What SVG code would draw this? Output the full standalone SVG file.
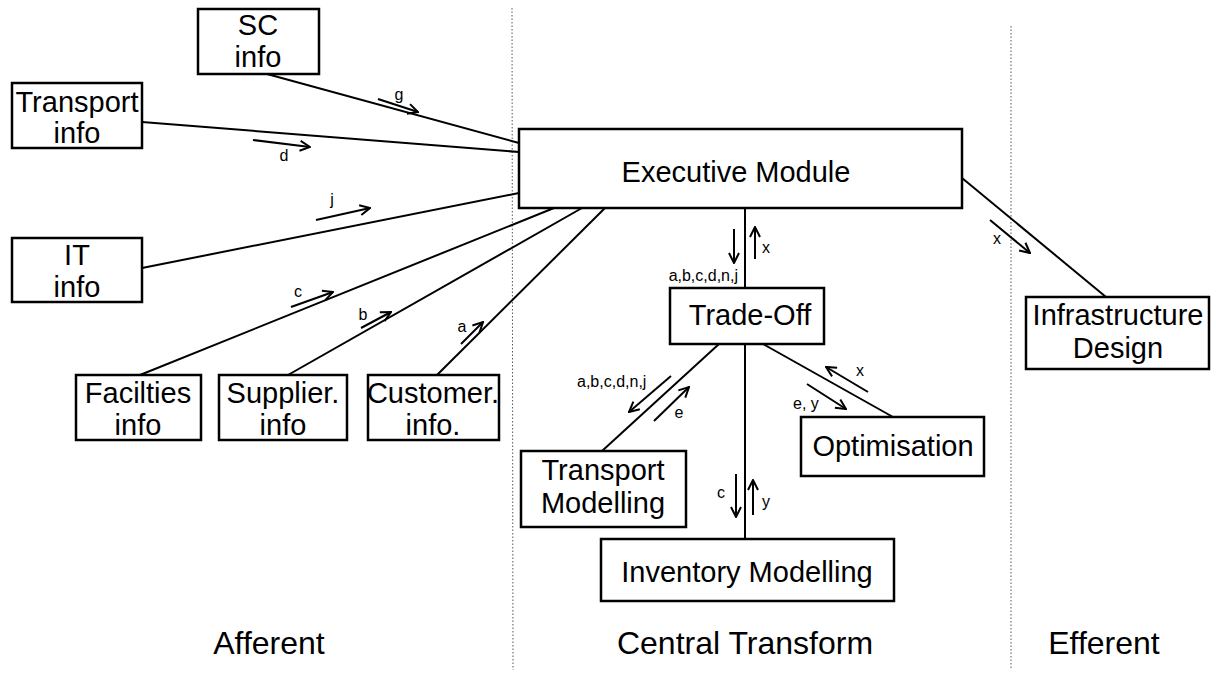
<svg xmlns="http://www.w3.org/2000/svg" width="1216" height="677" viewBox="0 0 1216 677">
<style>
.box{fill:#fff;stroke:#000;stroke-width:2.5}
.t{font-family:"Liberation Sans",Arial,sans-serif;font-size:29px;fill:#000;text-anchor:middle}
.s{font-family:"Liberation Sans",Arial,sans-serif;font-size:16px;fill:#000}
.m{text-anchor:middle}
.e{text-anchor:end}
.ln{stroke:#000;stroke-width:2;fill:none}
.ar{stroke:#000;stroke-width:2;fill:none;marker-end:url(#ah)}
.div{stroke:#555;stroke-width:1;stroke-dasharray:1.5 2;fill:none}
.lab{font-family:"Liberation Sans",Arial,sans-serif;font-size:32px;fill:#000;text-anchor:middle}
</style>
<defs>
<marker id="ah" viewBox="0 0 12 12" refX="11" refY="6" markerWidth="12" markerHeight="12" markerUnits="userSpaceOnUse" orient="auto">
<path d="M1,1 L11,6 L1,11" fill="none" stroke="#000" stroke-width="2"/>
</marker>
</defs>
<rect width="1216" height="677" fill="#fff"/>
<g id="dividers">
<line class="div" x1="512" y1="8" x2="513" y2="670"/>
<line class="div" x1="1011" y1="26" x2="1011" y2="670"/>
</g>
<g id="connectors">
<line class="ln" x1="267" y1="74" x2="519" y2="143"/>
<line class="ln" x1="142" y1="122" x2="519" y2="152"/>
<line class="ln" x1="142" y1="268" x2="519" y2="193"/>
<line class="ln" x1="140" y1="375" x2="554" y2="208"/>
<line class="ln" x1="288" y1="375" x2="582" y2="208"/>
<line class="ln" x1="437" y1="375" x2="605" y2="208"/>
<line class="ln" x1="745" y1="208" x2="745" y2="288"/>
<line class="ln" x1="962" y1="178" x2="1106" y2="297"/>
<line class="ln" x1="719" y1="344" x2="602" y2="451"/>
<line class="ln" x1="745" y1="344" x2="745" y2="539"/>
<line class="ln" x1="763" y1="344" x2="893" y2="417"/>
<line class="ar" x1="378" y1="99" x2="418" y2="112"/>
<line class="ar" x1="253" y1="140" x2="310" y2="147"/>
<line class="ar" x1="316" y1="220" x2="370" y2="208"/>
<line class="ar" x1="291" y1="307" x2="333" y2="292"/>
<line class="ar" x1="361" y1="328" x2="391" y2="312"/>
<line class="ar" x1="461" y1="344" x2="483" y2="322"/>
<line class="ar" x1="734" y1="229" x2="734" y2="263"/>
<line class="ar" x1="755" y1="259" x2="755" y2="227"/>
<line class="ar" x1="990" y1="220" x2="1030" y2="253"/>
<line class="ar" x1="671" y1="376" x2="629" y2="412"/>
<line class="ar" x1="654" y1="421" x2="689" y2="387"/>
<line class="ar" x1="868" y1="392" x2="826" y2="367"/>
<line class="ar" x1="807" y1="384" x2="846" y2="409"/>
<line class="ar" x1="736" y1="474" x2="736" y2="517"/>
<line class="ar" x1="753" y1="515" x2="753" y2="480"/>
<text class="s m" x="399" y="100">g</text>
<text class="s m" x="284" y="161">d</text>
<text class="s m" x="332" y="205">j</text>
<text class="s m" x="298" y="297">c</text>
<text class="s m" x="363" y="320">b</text>
<text class="s m" x="462" y="332">a</text>
<text class="s e" x="738" y="281">a,b,c,d,n,j</text>
<text class="s" x="762" y="253">x</text>
<text class="s m" x="997" y="244">x</text>
<text class="s" x="577" y="387">a,b,c,d,n,j</text>
<text class="s m" x="679" y="418">e</text>
<text class="s m" x="860" y="376">x</text>
<text class="s" x="793" y="409">e, y</text>
<text class="s m" x="721" y="498">c</text>
<text class="s m" x="766" y="507">y</text>
</g>
<g id="sc-info"><rect class="box" x="198" y="9" width="121" height="65"/><text class="t" x="258" y="35">SC</text><text class="t" x="258" y="67">info</text></g>
<g id="transport-info"><rect class="box" x="12" y="83" width="130" height="65"/><text class="t" x="77" y="112">Transport</text><text class="t" x="77" y="143">info</text></g>
<g id="it-info"><rect class="box" x="12" y="238" width="130" height="64"/><text class="t" x="77" y="265">IT</text><text class="t" x="77" y="297">info</text></g>
<g id="facilities-info"><rect class="box" x="76" y="375" width="125" height="65"/><text class="t" x="138" y="403">Facilties</text><text class="t" x="138" y="435">info</text></g>
<g id="supplier-info"><rect class="box" x="219" y="375" width="128" height="65"/><text class="t" x="283" y="403">Supplier.</text><text class="t" x="283" y="435">info</text></g>
<g id="customer-info"><rect class="box" x="368" y="375" width="131" height="65"/><text class="t" x="433" y="403">Customer.</text><text class="t" x="433" y="435">info.</text></g>
<g id="executive-module"><rect class="box" x="519" y="129" width="443" height="79"/><text class="t" x="736" y="182">Executive Module</text></g>
<g id="trade-off"><rect class="box" x="670" y="288" width="154" height="56"/><text class="t" x="750" y="325">Trade-Off</text></g>
<g id="transport-modelling"><rect class="box" x="521" y="451" width="165" height="76"/><text class="t" x="603" y="480">Transport</text><text class="t" x="603" y="513">Modelling</text></g>
<g id="inventory-modelling"><rect class="box" x="601" y="539" width="293" height="62"/><text class="t" x="747" y="582">Inventory Modelling</text></g>
<g id="optimisation"><rect class="box" x="801" y="417" width="183" height="59"/><text class="t" x="893" y="456">Optimisation</text></g>
<g id="infrastructure-design"><rect class="box" x="1026" y="297" width="183" height="72"/><text class="t" x="1118" y="325">Infrastructure</text><text class="t" x="1118" y="358">Design</text></g>
<g id="region-labels">
<text class="lab" x="269" y="654">Afferent</text>
<text class="lab" x="745" y="654">Central Transform</text>
<text class="lab" x="1104" y="654">Efferent</text>
</g>
</svg>
